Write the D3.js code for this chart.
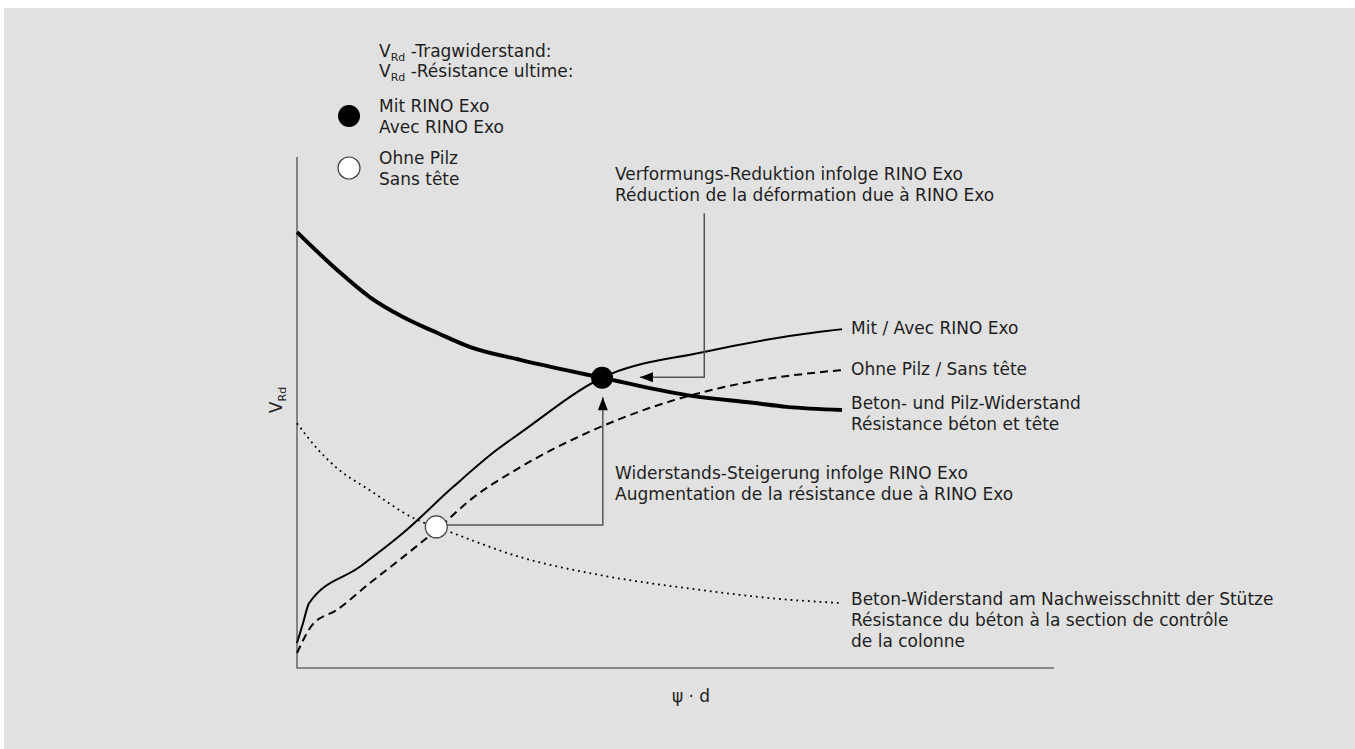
<!DOCTYPE html>
<html>
<head>
<meta charset="utf-8">
<script src="https://cdn.jsdelivr.net/npm/d3@7"></script>
<style>
  body { margin: 0; background: #fff; }
  svg text { font-family: "DejaVu Sans", sans-serif; font-size: 17px; fill: #1e1e1e; }
</style>
</head>
<body>
<div id="chart"></div>
<script>
// curves, in chart units (x: 0..100, y: 0..100)
var betonPilz = [[0,85.3],[5.3,77.9],[9.6,72.6],[14,68.7],[18.5,65.6],[22.9,62.8],[29.5,60.3],[40.3,56.8],[51.5,53.4],[60.2,51.9],[64.7,51.1],[72,50.5]];
var mitRino = [[0,4.9],[0.8,8.8],[1.6,12.7],[8.3,19.8],[14,26.4],[20.6,35.4],[26.4,42.7],[29.5,46],[40.3,56.8],[53.6,61.8],[69.1,65.8],[72,66.3]];
var ohnePilz = [[0,2.9],[2,8.4],[5.3,11.4],[9.6,16.6],[14,21.7],[18.4,27],[22.9,32.9],[29.5,39.3],[38.3,46],[47,51.1],[55.9,54.8],[69.1,57.9],[72,58.3]];
var betonOnly = [[0,47.9],[2.8,42.7],[5.3,39.1],[9.6,34.8],[15.3,29.4],[20.6,26.4],[29.5,21.7],[40,18.2],[53.2,15.3],[63.8,13.5],[72,12.7]];

// the two resistance points
var dotMit = [40.3, 56.8];
var dotOhne = [18.4, 27.6];

// annotation leaders
var leaderDeform = [[53.8,89],[53.8,56.9],[45.3,56.9]];
var leaderResist = [[19.8,28],[40.4,28],[40.4,53]];

var curveLabels = [
  { y: 66.3, lines: ["Mit / Avec RINO Exo"] },
  { y: 58.3, lines: ["Ohne Pilz / Sans tête"] },
  { y: 51.6, lines: ["Beton- und Pilz-Widerstand", "Résistance béton et tête"] },
  { y: 13.4, lines: ["Beton-Widerstand am Nachweisschnitt der Stütze", "Résistance du béton à la section de contrôle", "de la colonne"] }
];
var noteDeform = ["Verformungs-Reduktion infolge RINO Exo", "Réduction de la déformation due à RINO Exo"];
var noteResist = ["Widerstands-Steigerung infolge RINO Exo", "Augmentation de la résistance due à RINO Exo"];
var legendTitle = ["-Tragwiderstand:", "-Résistance ultime:"];
var legendItems = [
  { fill: "#000", lines: ["Mit RINO Exo", "Avec RINO Exo"] },
  { fill: "#fff", lines: ["Ohne Pilz", "Sans tête"] }
];

var W = 1355, H = 749;
var svg = d3.select("#chart").append("svg").attr("width", W).attr("height", H);

svg.append("rect").attr("x", 4).attr("y", 8).attr("width", W - 4).attr("height", H - 8).attr("fill", "#e1e1e1");

var x = d3.scaleLinear().domain([0, 100]).range([297, 1054]);
var y = d3.scaleLinear().domain([0, 100]).range([668, 157]);

var line = d3.line().x(function (d) { return x(d[0]); }).y(function (d) { return y(d[1]); });
var smooth = d3.line().x(function (d) { return x(d[0]); }).y(function (d) { return y(d[1]); }).curve(d3.curveMonotoneX);

// axes (plain lines, no ticks)
svg.append("path")
  .attr("d", line([[0, 100], [0, 0], [100, 0]]))
  .attr("fill", "none").attr("stroke", "#6b6b6b").attr("stroke-width", 1.6);

// curves
svg.append("path").attr("d", smooth(betonOnly)).attr("fill", "none")
  .attr("stroke", "#000").attr("stroke-width", 1.8).attr("stroke-dasharray", "1.8,4");
svg.append("path").attr("d", smooth(ohnePilz)).attr("fill", "none")
  .attr("stroke", "#000").attr("stroke-width", 2).attr("stroke-dasharray", "8,5");
svg.append("path").attr("d", smooth(mitRino)).attr("fill", "none")
  .attr("stroke", "#000").attr("stroke-width", 2);
svg.append("path").attr("d", smooth(betonPilz)).attr("fill", "none")
  .attr("stroke", "#000").attr("stroke-width", 4);

// leaders
function arrowHead(tip, dir) {
  // dir: "left" or "up"
  var tx = x(tip[0]), ty = y(tip[1]), L = 13, Hw = 5;
  var pts = dir === "left"
    ? [[tx, ty], [tx + L, ty - Hw], [tx + L, ty + Hw]]
    : [[tx, ty], [tx - Hw, ty + L], [tx + Hw, ty + L]];
  svg.append("path").attr("d", "M" + pts.join("L") + "Z").attr("fill", "#000");
}
svg.append("path").attr("d", line(leaderDeform)).attr("fill", "none")
  .attr("stroke", "#555").attr("stroke-width", 1.5);
arrowHead(leaderDeform[2], "left");
svg.append("path").attr("d", line(leaderResist)).attr("fill", "none")
  .attr("stroke", "#555").attr("stroke-width", 1.5);
arrowHead(leaderResist[2], "up");

// dots
svg.append("circle").attr("cx", x(dotMit[0])).attr("cy", y(dotMit[1])).attr("r", 11).attr("fill", "#000");
svg.append("circle").attr("cx", x(dotOhne[0])).attr("cy", y(dotOhne[1])).attr("r", 11)
  .attr("fill", "#fff").attr("stroke", "#444").attr("stroke-width", 1.2);

function block(tx, ty, lines, lh) {
  var t = svg.append("text").attr("x", tx).attr("y", ty);
  lines.forEach(function (s, i) {
    t.append("tspan").attr("x", tx).attr("dy", i === 0 ? 0 : lh).text(s);
  });
  return t;
}

// curve labels
curveLabels.forEach(function (d) {
  block(851, y(d.y) + 5, d.lines, 21);
});

block(615, 180, noteDeform, 21);
block(615, 479, noteResist, 21);

// legend
legendTitle.forEach(function (s, i) {
  var t = svg.append("text").attr("x", 379).attr("y", 57 + i * 20);
  t.append("tspan").text("V");
  t.append("tspan").attr("dy", 4).style("font-size", "11px").text("Rd");
  t.append("tspan").attr("dy", -4).text(" " + s);
});
legendItems.forEach(function (d, i) {
  var cy = 116 + i * 52;
  svg.append("circle").attr("cx", 349).attr("cy", cy).attr("r", 11)
    .attr("fill", d.fill).attr("stroke", d.fill === "#000" ? "none" : "#444").attr("stroke-width", 1.2);
  block(379, cy - 4, d.lines, 21);
});

// axis titles
var yl = svg.append("text").attr("transform", "translate(282,400) rotate(-90)").attr("text-anchor", "middle");
yl.append("tspan").text("V");
yl.append("tspan").attr("dy", 4).style("font-size", "11px").text("Rd");

svg.append("text").attr("x", 691).attr("y", 702).attr("text-anchor", "middle").text("ψ · d");
</script>
</body>
</html>
